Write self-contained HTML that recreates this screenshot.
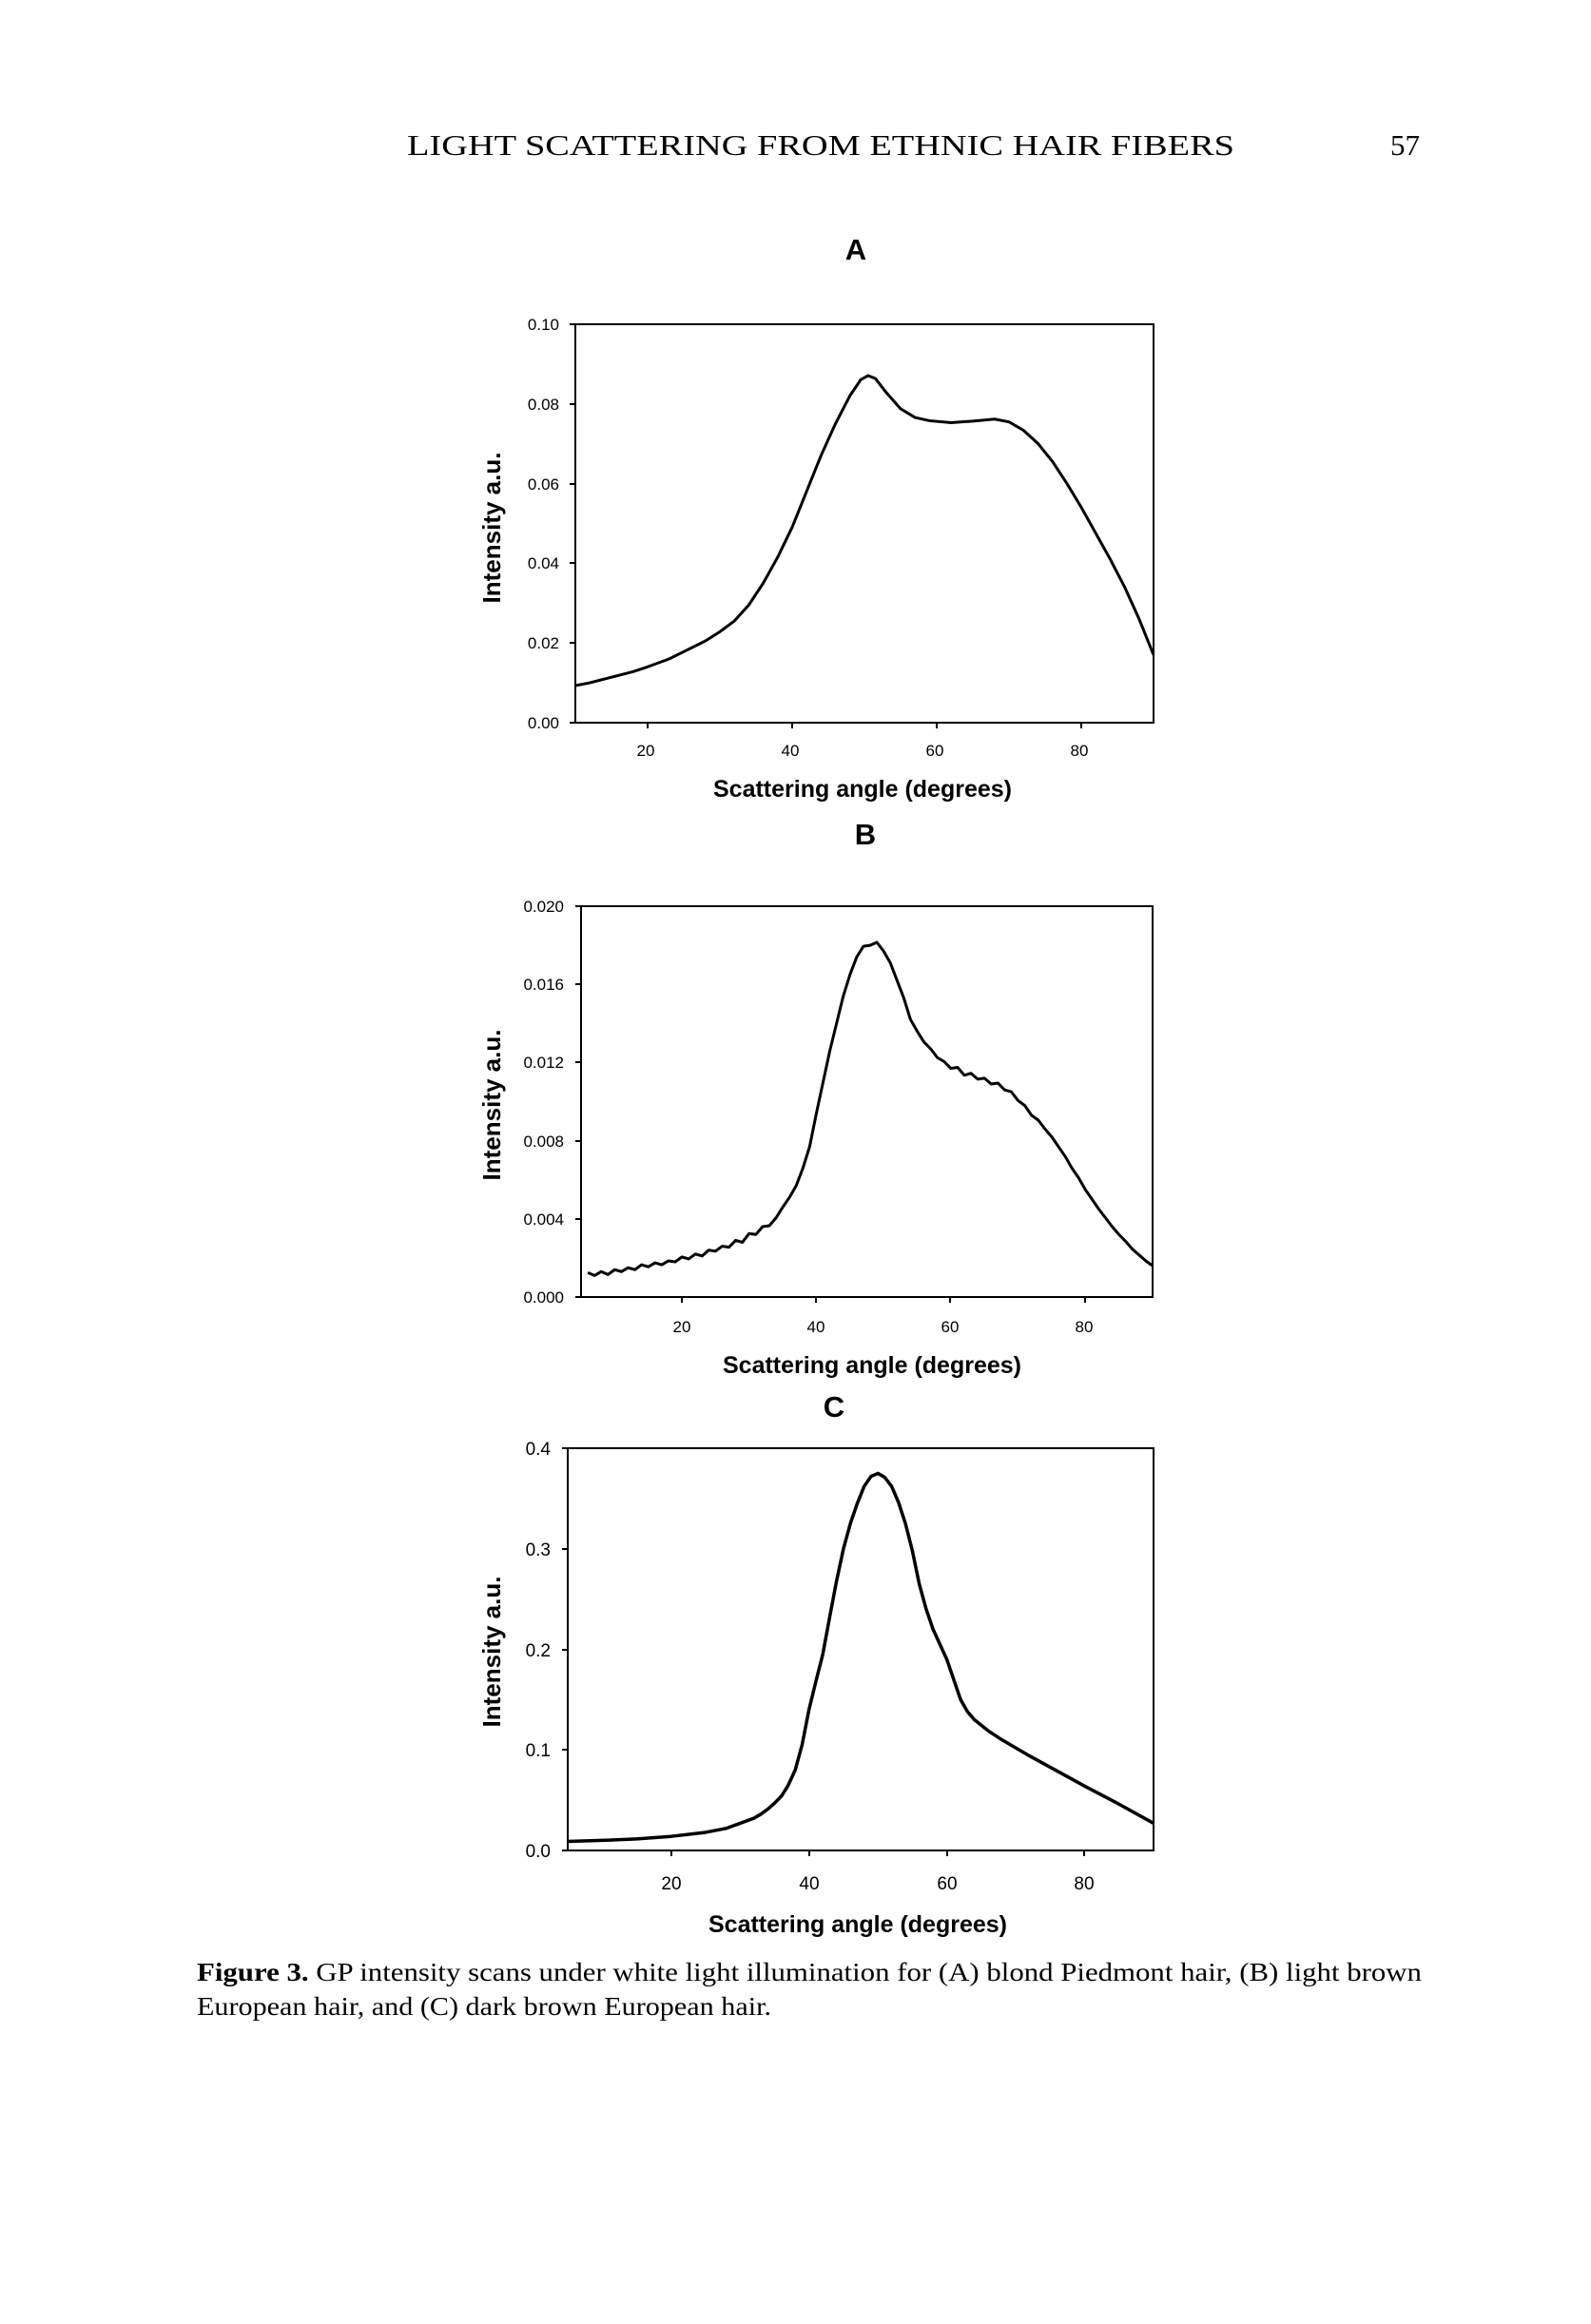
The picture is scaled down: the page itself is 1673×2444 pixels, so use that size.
<!DOCTYPE html>
<html><head><meta charset="utf-8"><style>
html,body{margin:0;padding:0;background:#fff;}
svg{display:block;}
</style></head><body>
<svg width="1673" height="2444" viewBox="0 0 1673 2444" xmlns="http://www.w3.org/2000/svg">
<rect width="1673" height="2444" fill="#fff"/>
<text x="428" y="163" font-family="Liberation Serif, serif" font-size="31" textLength="870" lengthAdjust="spacingAndGlyphs">LIGHT SCATTERING FROM ETHNIC HAIR FIBERS</text>
<text x="1462" y="163" font-family="Liberation Serif, serif" font-size="31">57</text>

<g font-family="Liberation Sans, sans-serif" fill="#000">
<!-- A -->
<text x="900" y="273" font-size="31" font-weight="bold" text-anchor="middle">A</text>
<rect x="605" y="341" width="608" height="419" fill="none" stroke="#000" stroke-width="2"/>
<g stroke="#000" stroke-width="2">
<line x1="599" y1="341" x2="605" y2="341"/><line x1="599" y1="425" x2="605" y2="425"/><line x1="599" y1="509" x2="605" y2="509"/><line x1="599" y1="592" x2="605" y2="592"/><line x1="599" y1="676" x2="605" y2="676"/><line x1="599" y1="760" x2="605" y2="760"/>
<line x1="681" y1="760" x2="681" y2="766"/><line x1="833" y1="760" x2="833" y2="766"/><line x1="985" y1="760" x2="985" y2="766"/><line x1="1137" y1="760" x2="1137" y2="766"/>
</g>
<g font-size="17" text-anchor="end">
<text x="588" y="347">0.10</text><text x="588" y="431">0.08</text><text x="588" y="515">0.06</text><text x="588" y="598">0.04</text><text x="588" y="682">0.02</text><text x="588" y="766">0.00</text>
</g>
<g font-size="17" text-anchor="middle">
<text x="679" y="795">20</text><text x="831" y="795">40</text><text x="983" y="795">60</text><text x="1135" y="795">80</text>
</g>
<text x="907" y="838" font-size="25" font-weight="bold" text-anchor="middle">Scattering angle (degrees)</text>
<text transform="translate(526,555) rotate(-90)" font-size="26" font-weight="bold" text-anchor="middle">Intensity a.u.</text>
<polyline transform="matrix(7.6 0 0 -4.195 529 760)" vector-effect="non-scaling-stroke" fill="none" stroke="#000" stroke-width="3" stroke-linejoin="round"
points="10,9.3 12,10 15,11.4 18,12.8 20,14 23,16 25,17.8 28,20.5 30,22.8 32,25.5 34,29.5 36,35 38,41.5 40,49 42,58 44,67 46,75 48,82 49.5,86 50.5,87 51.5,86.3 53,82.8 55,78.7 57,76.5 59,75.7 62,75.2 65,75.6 68,76.1 70,75.4 72,73.3 74,70 76,65.5 78,60 80,54 82,47.5 84,41 86,34 88,26 90,17"/>

<!-- B -->
<text x="910" y="888" font-size="31" font-weight="bold" text-anchor="middle">B</text>
<rect x="611" y="953" width="601" height="411" fill="none" stroke="#000" stroke-width="2"/>
<g stroke="#000" stroke-width="2">
<line x1="605" y1="953" x2="611" y2="953"/><line x1="605" y1="1035" x2="611" y2="1035"/><line x1="605" y1="1117" x2="611" y2="1117"/><line x1="605" y1="1200" x2="611" y2="1200"/><line x1="605" y1="1282" x2="611" y2="1282"/><line x1="605" y1="1364" x2="611" y2="1364"/>
<line x1="717" y1="1364" x2="717" y2="1370"/><line x1="858" y1="1364" x2="858" y2="1370"/><line x1="999" y1="1364" x2="999" y2="1370"/><line x1="1141" y1="1364" x2="1141" y2="1370"/>
</g>
<g font-size="17" text-anchor="end">
<text x="593" y="959">0.020</text><text x="593" y="1041">0.016</text><text x="593" y="1123">0.012</text><text x="593" y="1206">0.008</text><text x="593" y="1288">0.004</text><text x="593" y="1370">0.000</text>
</g>
<g font-size="17" text-anchor="middle">
<text x="717" y="1401">20</text><text x="858" y="1401">40</text><text x="999" y="1401">60</text><text x="1140" y="1401">80</text>
</g>
<text x="917" y="1444" font-size="25" font-weight="bold" text-anchor="middle">Scattering angle (degrees)</text>
<text transform="translate(526,1162) rotate(-90)" font-size="26" font-weight="bold" text-anchor="middle">Intensity a.u.</text>
<polyline transform="matrix(7.07 0 0 -20.55 575.65 1364)" vector-effect="non-scaling-stroke" fill="none" stroke="#000" stroke-width="3" stroke-linejoin="round"
points="6,1.25 7,1.1 8,1.3 9,1.15 10,1.4 11,1.3 12,1.5 13,1.4 14,1.65 15,1.55 16,1.75 17,1.65 18,1.85 19,1.8 20,2.05 21,1.95 22,2.2 23,2.1 24,2.4 25,2.35 26,2.6 27,2.55 28,2.9 29,2.8 30,3.25 31,3.2 32,3.6 33,3.65 34,4.05 35,4.6 36,5.1 37,5.7 38,6.6 39,7.7 40,9.4 41,11 42,12.6 43,14 44,15.4 45,16.5 46,17.4 47,17.95 48,18 49,18.15 50,17.7 51,17.1 52,16.2 53,15.3 54,14.2 55,13.6 56,13.05 57,12.7 58,12.25 59,12.05 60,11.7 61,11.75 62,11.35 63,11.45 64,11.15 65,11.2 66,10.9 67,10.95 68,10.6 69,10.5 70,10.05 71,9.8 72,9.3 73,9.05 74,8.6 75,8.2 76,7.7 77,7.2 78,6.6 79,6.1 80,5.5 81,5 82,4.5 83,4.05 84,3.6 85,3.2 86,2.85 87,2.45 88,2.15 89,1.85 90,1.6"/>

<!-- C -->
<text x="877" y="1490" font-size="31" font-weight="bold" text-anchor="middle">C</text>
<rect x="597" y="1523" width="616" height="423" fill="none" stroke="#000" stroke-width="2"/>
<g stroke="#000" stroke-width="2">
<line x1="591" y1="1523" x2="597" y2="1523"/><line x1="591" y1="1629" x2="597" y2="1629"/><line x1="591" y1="1735" x2="597" y2="1735"/><line x1="591" y1="1840" x2="597" y2="1840"/><line x1="591" y1="1946" x2="597" y2="1946"/>
<line x1="706" y1="1946" x2="706" y2="1952"/><line x1="851" y1="1946" x2="851" y2="1952"/><line x1="996" y1="1946" x2="996" y2="1952"/><line x1="1140" y1="1946" x2="1140" y2="1952"/>
</g>
<g font-size="19" text-anchor="end">
<text x="579" y="1530">0.4</text><text x="579" y="1636">0.3</text><text x="579" y="1742">0.2</text><text x="579" y="1847">0.1</text><text x="579" y="1953">0.0</text>
</g>
<g font-size="19" text-anchor="middle">
<text x="706" y="1987">20</text><text x="851" y="1987">40</text><text x="996" y="1987">60</text><text x="1140" y="1987">80</text>
</g>
<text x="902" y="2032" font-size="25" font-weight="bold" text-anchor="middle">Scattering angle (degrees)</text>
<text transform="translate(526,1737) rotate(-90)" font-size="26" font-weight="bold" text-anchor="middle">Intensity a.u.</text>
<polyline transform="matrix(7.247 0 0 -1.0575 560.8 1946)" vector-effect="non-scaling-stroke" fill="none" stroke="#000" stroke-width="3.5" stroke-linejoin="round"
points="5,9 10,10 15,11.5 20,14 25,18 28,22 30,27 32,32 33,36 34,41 35,47 36,54 37,65 38,80 39,105 40,140 41,168 42,195 43,232 44,268 45,300 46,325 47,345 48,362 49,372 50,375 51,371 52,362 53,346 54,325 55,298 56,265 57,240 58,220 59,205 60,190 61,170 62,150 63,138 64,130 66,119 68,110 70,102 72,94 76,79 80,64 85,46 90,27"/>
</g>

<text x="207" y="2083" font-family="Liberation Serif, serif" font-size="27" textLength="1288" lengthAdjust="spacingAndGlyphs"><tspan font-weight="bold">Figure 3.</tspan> GP intensity scans under white light illumination for (A) blond Piedmont hair, (B) light brown</text>
<text x="207" y="2119" font-family="Liberation Serif, serif" font-size="27" textLength="604" lengthAdjust="spacingAndGlyphs">European hair, and (C) dark brown European hair.</text>
</svg>
</body></html>
